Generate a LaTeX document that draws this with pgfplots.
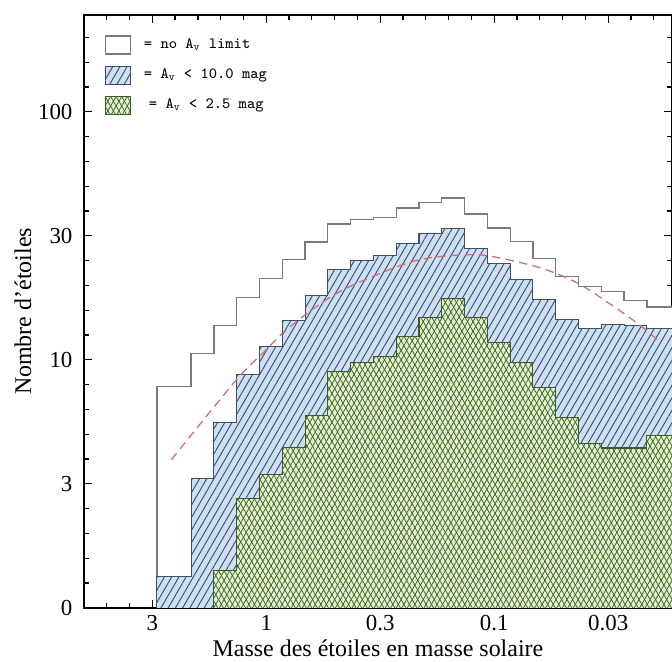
\documentclass[border=0pt]{standalone}
\usepackage{fontspec}
\setmainfont{Liberation Serif}
\usepackage{pgfplots}
\pgfplotsset{compat=1.18}
\usetikzlibrary{patterns.meta}

\definecolor{histgray}{HTML}{7A7A7A}
\definecolor{bluefill}{HTML}{CDE0F5}
\definecolor{bluehatch}{HTML}{3F4F66}
\definecolor{greenfill}{HTML}{E2F4CB}
\definecolor{greenhatch}{HTML}{3D5A2A}
\definecolor{fitred}{HTML}{D36B6B}

\begin{document}
\begin{tikzpicture}
\begin{axis}[
    scale only axis,
    width=282.3pt,
    height=284.6pt,
    xmode=log, ymode=log,
    x dir=reverse,
    xmin=0.016596, xmax=6.3096,
    ymin=1, ymax=245.5,
    xtick={3.16228,1,0.316228,0.1,0.0316228},
    xticklabels={3,1,0.3,0.1,0.03},
    minor xtick={5.01187,3.98107,2.51189,1.99526,1.58489,1.25893,0.794328,0.630957,0.501187,0.398107,0.251189,0.199526,0.158489,0.125893,0.0794328,0.0630957,0.0501187,0.0398107,0.0251189,0.0199526},
    ytick={1,3.16228,10,31.6228,100},
    yticklabels={0,3,10,30,100},
    minor ytick={1.25893,1.58489,1.99526,2.51189,3.98107,5.01187,6.30957,7.94328,12.5893,15.8489,19.9526,25.1189,39.8107,50.1187,63.0957,79.4328,125.893,158.489,199.526},
    tick align=inside,
    tick pos=both,
    major tick length=3.8pt,
    minor tick length=2.2pt,
    every tick/.style={black, line width=0.6pt},
    axis line style={black, line width=0.8pt},
    tick label style={font=\fontsize{11}{13}\selectfont},
    yticklabel style={xshift=-2pt},
    xlabel={Masse des étoiles en masse solaire},
    ylabel={Nombre d'étoiles},
    label style={font=\fontsize{11.5}{14}\selectfont},
    xlabel style={at={(axis description cs:0.5,0)}, anchor=base, yshift=-23.5pt},
    ylabel style={at={([xshift=-29.3pt]axis description cs:0,0.5)}, anchor=center},
    legend cell align=left,
    legend image code/.code={\draw[#1] (0pt,-4.3pt) rectangle (12pt,4.3pt);},
    legend style={at={(0,1)}, anchor=north west, xshift=10pt, yshift=-9.6pt,
        draw=none, fill=none, inner sep=0pt, row sep=5.3pt, column sep=6pt,
        nodes={inner sep=0pt},
        font=\fontsize{7.5}{9}\selectfont\ttfamily},
]
% no Av limit
\addplot[const plot mark left, draw=histgray, fill=white, line width=0.6pt] coordinates {
    (3.02,1) (3.02,7.80) (2.138,10.57) (1.698,13.75) (1.349,17.83) (1.0715,21.27)
    (0.8511,25.31) (0.6761,29.83) (0.5370,35.26) (0.4266,36.69) (0.3388,37.55)
    (0.2692,40.90) (0.2138,43.08) (0.1698,44.87) (0.1349,38.68) (0.1072,33.97)
    (0.08511,29.90) (0.06761,25.70) (0.05370,21.67) (0.04266,19.75) (0.03388,18.85)
    (0.02692,17.34) (0.02138,16.31) (0.012,16.31) (0.012,1)
};
\addlegendentry{= no A\textsubscript{v} limit}
% Av < 10
\addplot[const plot mark left, draw=bluehatch, fill=bluefill, line width=0.5pt,
    postaction={pattern={Lines[angle=60,distance=3pt,line width=0.45pt]}, pattern color=bluehatch}] coordinates {
    (3.02,1) (3.02,1.337) (2.138,3.313) (1.698,5.586) (1.349,8.757) (1.0715,11.31)
    (0.8511,14.37) (0.6761,18.17) (0.5370,23.21) (0.4266,25.14) (0.3388,26.27)
    (0.2692,29.50) (0.2138,32.43) (0.1698,33.75) (0.1349,28.21) (0.1072,24.55)
    (0.08511,21.02) (0.06761,17.46) (0.05370,14.50) (0.04266,13.42) (0.03388,13.84)
    (0.02692,13.72) (0.02138,13.42) (0.012,13.42) (0.012,1)
};
\addlegendentry{= A\textsubscript{v} < 10.0 mag}
% Av < 2.5
\addplot[const plot mark left, draw=greenhatch, fill=greenfill, line width=0.5pt,
    postaction={pattern={Lines[angle=60,distance=2.3pt,line width=0.35pt]}, pattern color=greenhatch},
    postaction={pattern={Lines[angle=120,distance=2.3pt,line width=0.35pt]}, pattern color=greenhatch}] coordinates {
    (1.698,1) (1.698,1.41) (1.349,2.77) (1.0715,3.46) (0.8511,4.43) (0.6761,5.95)
    (0.5370,8.97) (0.4266,9.75) (0.3388,10.31) (0.2692,12.46) (0.2138,14.87)
    (0.1698,17.74) (0.1349,14.87) (0.1072,11.79) (0.08511,9.75) (0.06761,7.76)
    (0.05370,5.85) (0.04266,4.61) (0.03388,4.41) (0.02692,4.41) (0.02138,4.94)
    (0.012,4.94) (0.012,1)
};
\addlegendentry{\hspace{2.4pt}= A\textsubscript{v} < 2.5 mag}
% log-normal fit
\addplot[smooth, forget plot, fitred, line width=0.6pt, dash pattern=on 4pt off 2.6pt] coordinates {
    (2.611,3.954) (1.354,8.299) (1.035,10.64) (0.8457,12.82) (0.6457,15.67)
    (0.4613,19.14) (0.2692,23.66) (0.1923,25.76) (0.1159,26.49) (0.0700,24.15)
    (0.05176,22.03) (0.03945,19.45) (0.02466,14.49) (0.01884,11.86)
};
\coordinate (sw) at (axis description cs:0,0);
\coordinate (ne) at (axis description cs:1,1);
\end{axis}
\pgfresetboundingbox
\path ([shift={(-40.3pt,-25.9pt)}]sw) rectangle ([shift={(0pt,7.2pt)}]ne);
\end{tikzpicture}
\end{document}
